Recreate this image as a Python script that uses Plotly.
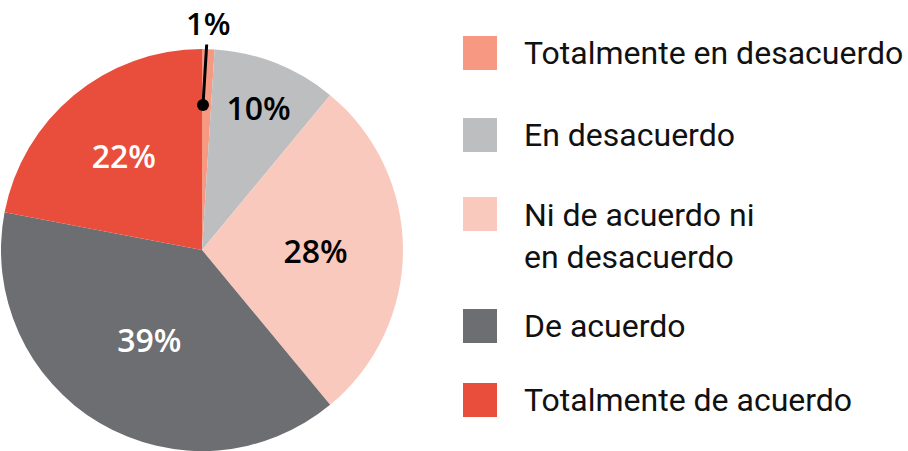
import plotly.graph_objects as go

labels = ["Totalmente en desacuerdo", "En desacuerdo", "Ni de acuerdo ni en desacuerdo",
          "De acuerdo", "Totalmente de acuerdo"]
legend_text = ["Totalmente en desacuerdo", "En desacuerdo", "Ni de acuerdo ni<br>en desacuerdo",
               "De acuerdo", "Totalmente de acuerdo"]
values = [1, 10, 28, 39, 22]
pct_text = ["1%", "10%", "28%", "39%", "22%"]

colors = ["#F79883", "#BCBEC0", "#F9C9BD", "#6D6E71", "#E84E3B"]
text_colors = ["#000000", "#000000", "#000000", "#FFFFFF", "#FFFFFF"]

W, H = 908, 451
FONT = "Roboto"
PFONT = "Open Sans"

fig = go.Figure()
fig.add_trace(go.Pie(
    labels=labels,
    values=values,
    text=["" if i == 0 else t for i, t in enumerate(pct_text)],
    textinfo="text",
    textposition="inside",
    insidetextorientation="horizontal",
    textfont=dict(family=PFONT, size=32, color=text_colors, weight=600),
    marker=dict(colors=colors, line=dict(width=0)),
    sort=False,
    direction="clockwise",
    rotation=0,
    domain=dict(x=[0, 404 / W], y=[0, 402 / H]),
    showlegend=False,
    hoverinfo="label+percent",
))

# small-slice callout (1%)
dot_x, dot_y = 203, 105
fig.add_annotation(
    x=dot_x / W, y=1 - dot_y / H, xref="paper", yref="paper",
    text=pct_text[0], showarrow=True, arrowhead=0,
    arrowwidth=3, arrowcolor="#000000", ax=5, ay=-82, standoff=0,
    borderpad=0,
    font=dict(family=PFONT, size=31, color="#000000", weight=600),
)
fig.add_shape(type="circle", xref="paper", yref="paper",
              x0=(dot_x - 6) / W, x1=(dot_x + 6) / W,
              y0=1 - (dot_y + 6) / H, y1=1 - (dot_y - 6) / H,
              fillcolor="#000000", line=dict(width=0))

# custom legend with large swatches
legend_rows = [53, 135, 214, 326, 400]
sq_x0, sq_size, txt_x = 463, 34, 522
for i, (lab, col, yc) in enumerate(zip(legend_text, colors, legend_rows)):
    fig.add_shape(type="rect", xref="paper", yref="paper",
                  x0=sq_x0 / W, x1=(sq_x0 + sq_size) / W,
                  y0=1 - (yc + sq_size / 2) / H, y1=1 - (yc - sq_size / 2) / H,
                  fillcolor=col, line=dict(width=0))
    fig.add_annotation(x=txt_x / W, y=1 - yc / H, xref="paper", yref="paper",
                       text=lab, showarrow=False, xanchor="left",
                       yanchor="top" if "<br>" in lab else "middle",
                       yshift=20 if "<br>" in lab else 0,
                       align="left",
                       font=dict(family=FONT, size=32, color="#111111"))

fig.update_layout(
    width=W, height=H,
    margin=dict(l=0, r=0, t=0, b=0),
    paper_bgcolor="white", plot_bgcolor="white",
    showlegend=False,
)
fig.write_html("out.html",
               config=dict(displayModeBar=False),
               post_script="document.body.style.margin='0';document.body.style.overflow='hidden';")
